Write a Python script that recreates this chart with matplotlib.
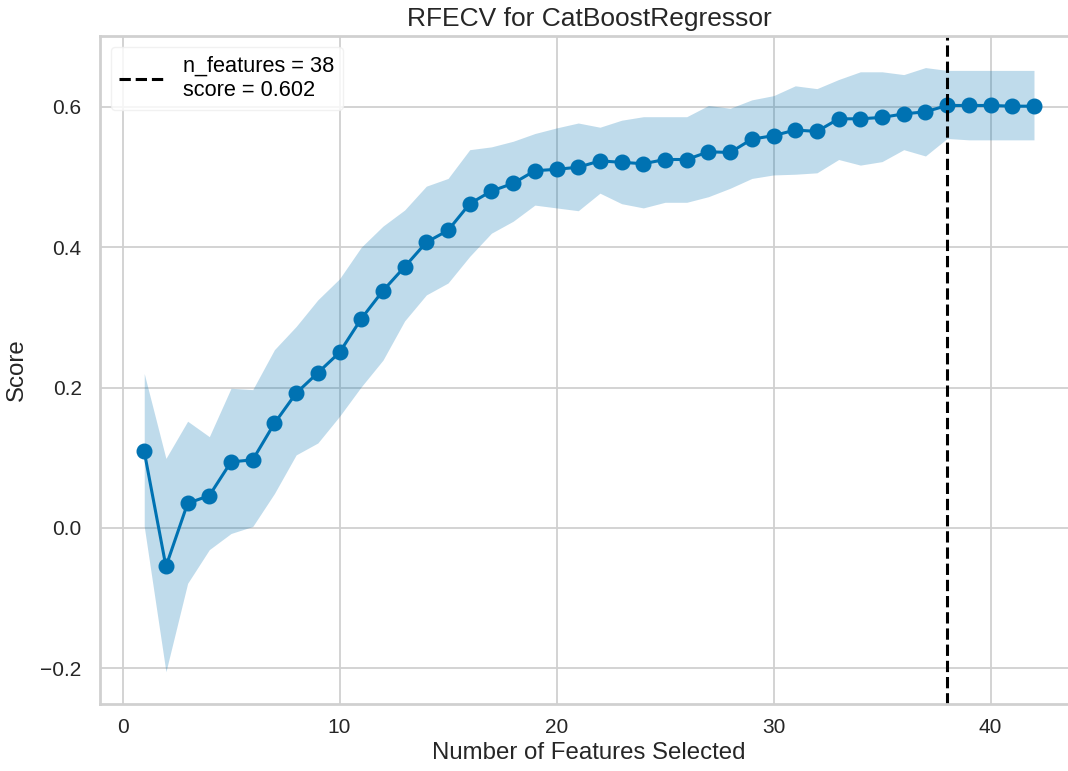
import numpy as np
import matplotlib
matplotlib.use("Agg")
import matplotlib.pyplot as plt

n_features = list(range(1, 43))
score = [0.109, -0.055, 0.035, 0.046, 0.094, 0.097, 0.149, 0.192, 0.221, 0.250,
         0.298, 0.338, 0.372, 0.407, 0.424, 0.462, 0.480, 0.491, 0.509, 0.511,
         0.514, 0.523, 0.521, 0.519, 0.525, 0.525, 0.536, 0.535, 0.554, 0.559,
         0.567, 0.565, 0.583, 0.583, 0.585, 0.590, 0.593, 0.602, 0.602, 0.602,
         0.601, 0.601]
upper = [0.220, 0.099, 0.152, 0.130, 0.199, 0.197, 0.254, 0.287, 0.325, 0.355,
         0.400, 0.430, 0.453, 0.487, 0.498, 0.539, 0.543, 0.551, 0.562, 0.570,
         0.577, 0.571, 0.581, 0.586, 0.586, 0.586, 0.602, 0.598, 0.610, 0.616,
         0.630, 0.626, 0.639, 0.650, 0.650, 0.646, 0.656, 0.652, 0.652, 0.652,
         0.652, 0.652]
lower = [0.002, -0.205, -0.079, -0.031, -0.008, 0.002, 0.049, 0.104, 0.121, 0.159,
         0.201, 0.239, 0.295, 0.332, 0.349, 0.387, 0.420, 0.437, 0.460, 0.456,
         0.452, 0.477, 0.462, 0.456, 0.464, 0.464, 0.472, 0.484, 0.498, 0.503,
         0.504, 0.506, 0.525, 0.517, 0.522, 0.539, 0.530, 0.555, 0.553, 0.553,
         0.553, 0.553]
best_n = 38
best_score = 0.602

color = "#0072B2"
grid_color = "#d0d0d0"
text_color = "#262626"

plt.rcParams["font.family"] = ["Liberation Sans", "DejaVu Sans"]

fig = plt.figure(figsize=(10.68, 7.71), dpi=100)
ax = fig.add_axes([0.0934, 0.0869, 0.9164, 0.8664])

ax.fill_between(n_features, lower, upper, color=color, alpha=0.25, linewidth=0)
ax.plot(n_features, score, marker="o", color=color, linewidth=2.2,
        markersize=10.5)
ax.axvline(best_n, color="black", linestyle="--", linewidth=2.2,
           label=f"n_features = {best_n}\nscore = {best_score:.3f}")

ax.set_xlim(-1.05, 44.05)
ax.set_ylim(-0.251, 0.701)
ax.set_xticks([0, 10, 20, 30, 40])
ax.set_yticks([-0.2, 0.0, 0.2, 0.4, 0.6])

ax.set_title("RFECV for CatBoostRegressor", fontsize=19, color=text_color, pad=7)
ax.set_xlabel("Number of Features Selected", fontsize=17.25, color=text_color,
              labelpad=4)
ax.set_ylabel("Score", fontsize=17.25, color=text_color, labelpad=9)
ax.tick_params(axis="x", labelsize=15, colors=text_color, length=0, pad=10)
ax.tick_params(axis="y", labelsize=15, colors=text_color, length=0, pad=13)

ax.grid(True, color=grid_color, linewidth=1.3)
ax.set_axisbelow(True)
for s in ax.spines.values():
    s.set_color(grid_color)
    s.set_linewidth(2)
# la imagen original esta recortada a la derecha
ax.spines["right"].set_visible(False)

leg = ax.legend(loc="upper left", fontsize=15.7, frameon=True, framealpha=0.8,
                handlelength=2.1, borderaxespad=0.5)
leg.get_frame().set_edgecolor("#eeeeee")

fig.savefig("out.png", dpi=100)
